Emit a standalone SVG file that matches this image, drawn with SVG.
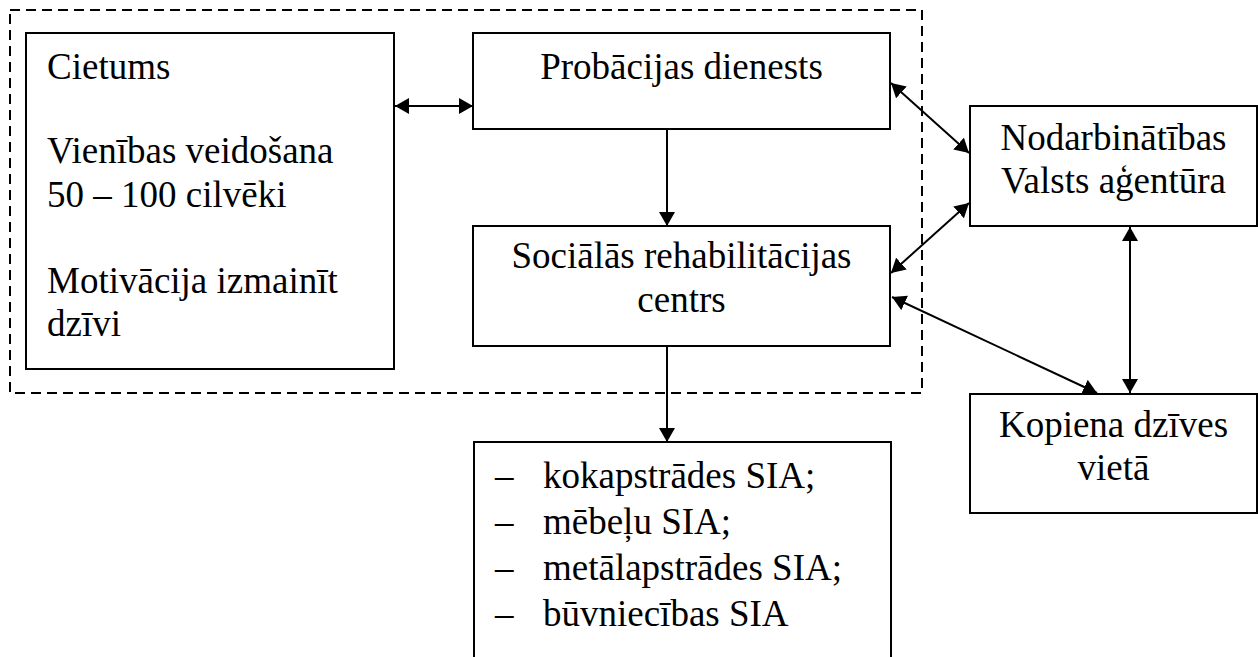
<svg xmlns="http://www.w3.org/2000/svg" width="1258" height="657" viewBox="0 0 1258 657">
<style>
.box{fill:#fff;stroke:#000;stroke-width:2}
.t{font-family:"Liberation Serif","Times New Roman",serif;font-size:37px;fill:#000}
.c{text-anchor:middle}
.con{stroke:#000;stroke-width:2;fill:none}
</style>
<defs>
<marker id="ah" markerUnits="userSpaceOnUse" markerWidth="14" markerHeight="16" refX="14" refY="8" orient="auto-start-reverse" viewBox="0 0 14 16">
<path d="M0,0 L14,8 L0,16 z" fill="#000"/>
</marker>
</defs>
<rect width="1258" height="657" fill="#fff"/>
<rect id="group" x="10" y="10" width="912" height="383" fill="none" stroke="#000" stroke-width="2" stroke-dasharray="10 6"/>
<g id="cietums">
<rect class="box" x="26" y="33" width="368" height="336"/>
<text class="t" x="47" y="79">Cietums</text>
<text class="t" x="47" y="163">Vienības veidošana</text>
<text class="t" x="47" y="207">50 – 100 cilvēki</text>
<text class="t" x="47" y="293">Motivācija izmainīt</text>
<text class="t" x="47" y="336">dzīvi</text>
</g>
<g id="probacija">
<rect class="box" x="473" y="33" width="417" height="96"/>
<text class="t c" x="681.5" y="79">Probācijas dienests</text>
</g>
<g id="rehab">
<rect class="box" x="473" y="226" width="417" height="120"/>
<text class="t c" x="681.5" y="268">Sociālās rehabilitācijas</text>
<text class="t c" x="681.5" y="312">centrs</text>
</g>
<g id="nva">
<rect class="box" x="970" y="106" width="287" height="120"/>
<text class="t c" x="1113.5" y="150">Nodarbinātības</text>
<text class="t c" x="1113.5" y="193">Valsts aģentūra</text>
</g>
<g id="kopiena">
<rect class="box" x="970" y="394" width="287" height="119"/>
<text class="t c" x="1113.5" y="437">Kopiena dzīves</text>
<text class="t c" x="1113.5" y="480">vietā</text>
</g>
<g id="sia">
<rect class="box" x="474" y="442" width="417" height="230"/>
<text class="t" x="495" y="488">–</text>
<text class="t" x="543" y="488">kokapstrādes SIA;</text>
<text class="t" x="495" y="534">–</text>
<text class="t" x="543" y="534">mēbeļu SIA;</text>
<text class="t" x="495" y="580">–</text>
<text class="t" x="543" y="580">metālapstrādes SIA;</text>
<text class="t" x="495" y="626">–</text>
<text class="t" x="543" y="626">būvniecības SIA</text>
</g>
<g id="connectors">
<line class="con" x1="395" y1="106" x2="473" y2="106" marker-start="url(#ah)" marker-end="url(#ah)"/>
<line class="con" x1="667" y1="129" x2="667" y2="226" marker-end="url(#ah)"/>
<line class="con" x1="667" y1="346" x2="667" y2="442" marker-end="url(#ah)"/>
<line class="con" x1="891" y1="83" x2="969" y2="153" marker-start="url(#ah)" marker-end="url(#ah)"/>
<line class="con" x1="891" y1="273" x2="969" y2="203" marker-start="url(#ah)" marker-end="url(#ah)"/>
<line class="con" x1="892" y1="297" x2="1097" y2="393" marker-start="url(#ah)" marker-end="url(#ah)"/>
<line class="con" x1="1130" y1="227" x2="1130" y2="393" marker-start="url(#ah)" marker-end="url(#ah)"/>
</g>
</svg>
